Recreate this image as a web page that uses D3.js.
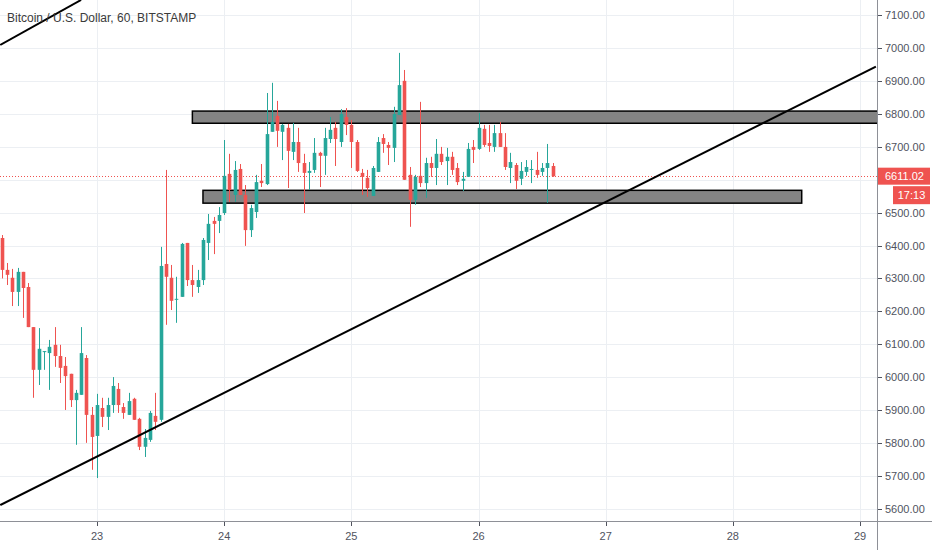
<!DOCTYPE html>
<html>
<head>
<meta charset="utf-8">
<script src="https://cdn.jsdelivr.net/npm/d3@7"></script>
<style>
  body { margin: 0; background: #fff; }
  svg { display: block; font-family: "Liberation Sans", Arial, sans-serif; }
</style>
</head>
<body>
<svg id="chart"></svg>
<script>
// hourly BTCUSD bars, first bar 22 Mar 06:00 (UTC)
const firstBar = Date.UTC(2020, 2, 22, 6);

const open = [6423,6326,6302,6259,6320,6274,6152,6022,6076,6073,6098,6064,6034,6010,5930,5946,6058,5885,
  5821,5906,5879,5915,5964,5909,5885,5934,5873,5788,5809,5882,5870,6344,6302,6235,6244,6408,6295,6274,
  6295,6408,6475,6475,6499,6618,6554,6633,6554,6447,6502,6597,6587,6746,6794,6746,6758,6685,6715,6651,
  6621,6630,6682,6673,6724,6758,6715,6791,6767,6715,6621,6606,6551,6624,6727,6706,6697,6797,6901,6615,
  6539,6612,6590,6651,6636,6679,6657,6670,6636,6597,6609,6700,6694,6755,6712,6700,6742,6700,6636,6645,
  6603,6624,6630,6630,6624,6636,6642];
const high = [6432,6347,6329,6332,6320,6286,6152,6149,6079,6113,6152,6098,6061,6010,5961,6152,6067,5909,
  5949,5937,5937,6000,5982,5921,5952,5937,5876,5842,5897,5952,6396,6630,6341,6305,6408,6408,6341,6326,
  6423,6496,6487,6517,6721,6679,6657,6648,6584,6524,6615,6648,6864,6895,6840,6770,6770,6773,6758,6679,
  6654,6727,6685,6758,6791,6776,6815,6818,6782,6721,6633,6630,6642,6730,6739,6715,6822,6986,6934,6639,
  6615,6837,6667,6670,6724,6700,6697,6685,6651,6624,6712,6721,6803,6767,6767,6767,6776,6742,6682,6651,
  6654,6660,6660,6685,6651,6709,6651];
const low = [6300,6280,6216,6216,6180,6152,5937,5976,6022,5961,6031,5982,5900,5909,5794,5946,5800,5718,
  5693,5848,5839,5891,5891,5873,5885,5870,5778,5757,5803,5839,5864,6159,6204,6165,6244,6277,6244,6256,
  6280,6356,6374,6438,6493,6533,6533,6554,6399,6426,6484,6578,6584,6746,6700,6660,6575,6660,6624,6499,
  6569,6621,6578,6615,6712,6642,6700,6736,6636,6624,6554,6548,6551,6624,6682,6645,6654,6797,6600,6457,
  6524,6578,6545,6609,6584,6645,6584,6615,6584,6566,6609,6651,6691,6700,6685,6685,6700,6630,6590,6572,
  6584,6612,6590,6606,6612,6530,6609];
const close = [6326,6311,6259,6320,6271,6152,6022,6086,6079,6092,6064,6028,6003,5930,5952,6073,5885,5818,
  5915,5879,5915,5973,5915,5891,5927,5870,5788,5815,5891,5864,6338,6305,6232,6238,6405,6295,6280,6295,
  6417,6466,6466,6493,6612,6569,6630,6554,6447,6514,6593,6590,6739,6776,6749,6767,6688,6715,6651,6621,
  6627,6682,6673,6727,6752,6724,6800,6767,6715,6627,6609,6575,6636,6715,6709,6697,6800,6888,6600,6539,
  6609,6590,6651,6636,6679,6654,6670,6630,6593,6603,6694,6691,6758,6706,6703,6742,6700,6639,6654,6597,
  6627,6639,6633,6615,6636,6651,6611.02];

const dayTicks = [22, 23, 24, 25, 26, 27, 28, 29];
const priceTicks = [5600,5700,5800,5900,6000,6100,6200,6300,6400,6500,6600,6700,6800,6900,7000,7100];
const title = "Bitcoin / U.S. Dollar, 60, BITSTAMP";
const lastPrice = 6611.02;
const timerText = "17:13";

// drawn zones: [start, end] times and [bottom, top] prices
const zoneStart = [Date.UTC(2020, 2, 23, 18), Date.UTC(2020, 2, 23, 20)];
const zoneEnd   = [Date.UTC(2020, 2, 29, 12), Date.UTC(2020, 2, 28, 13)];
const zoneTop    = [6809, 6568];
const zoneBottom = [6772, 6529];

// drawn trend lines: [time, price] end points
const trendTimes  = [[Date.UTC(2020, 2, 22, 5, 45), Date.UTC(2020, 2, 22, 21)],
                     [Date.UTC(2020, 2, 22, 5, 45), Date.UTC(2020, 2, 29, 3)]];
const trendPrices = [[7010, 7147], [5611, 6944]];

const W = 932, H = 550;
const plotR = 877, plotB = 521;
const green = '#26a69a', red = '#ef5350';

const svg = d3.select('#chart').attr('width', W).attr('height', H);

const x = d3.scaleUtc()
  .domain([Date.UTC(2020, 2, 23), Date.UTC(2020, 2, 29)])
  .range([97, 860]);
const y = d3.scaleLinear()
  .domain([5600, 7100])
  .range([508.6, 15.4]);

const bars = open.map((o, i) => ({
  t: d3.utcHour.offset(new Date(firstBar), i),
  o: o, h: high[i], l: low[i], c: close[i]
}));

svg.append('clipPath').attr('id', 'plot')
  .append('rect').attr('width', plotR).attr('height', plotB);

const plot = svg.append('g').attr('clip-path', 'url(#plot)');

// grid
plot.selectAll('.hgrid').data(priceTicks).enter()
  .append('line')
  .attr('x1', 0).attr('x2', plotR)
  .attr('y1', d => Math.round(y(d)) + 0.5).attr('y2', d => Math.round(y(d)) + 0.5)
  .attr('stroke', '#eceff3');
plot.selectAll('.vgrid').data(dayTicks).enter()
  .append('line')
  .attr('x1', d => Math.round(x(Date.UTC(2020, 2, d))) + 0.5)
  .attr('x2', d => Math.round(x(Date.UTC(2020, 2, d))) + 0.5)
  .attr('y1', 0).attr('y2', plotB)
  .attr('stroke', '#eceff3');

// last price line
plot.append('line')
  .attr('x1', 0).attr('x2', plotR)
  .attr('y1', Math.round(y(lastPrice)) + 0.5).attr('y2', Math.round(y(lastPrice)) + 0.5)
  .attr('stroke', red).attr('stroke-dasharray', '1,2');

// zones
plot.selectAll('.zone').data(zoneTop).enter()
  .append('rect')
  .attr('x', (d, i) => x(zoneStart[i]))
  .attr('width', (d, i) => x(zoneEnd[i]) - x(zoneStart[i]))
  .attr('y', d => y(d))
  .attr('height', (d, i) => y(zoneBottom[i]) - y(d))
  .attr('fill', '#848484')
  .attr('stroke', '#000').attr('stroke-width', 1.5);

// candles
const candle = plot.selectAll('.candle').data(bars).enter()
  .append('g')
  .attr('fill', d => d.c >= d.o ? green : red)
  .attr('stroke', d => d.c >= d.o ? green : red);

candle.append('line')
  .attr('x1', d => Math.round(x(d.t)) + 0.5).attr('x2', d => Math.round(x(d.t)) + 0.5)
  .attr('y1', d => y(d.h)).attr('y2', d => y(d.l))
  .attr('stroke-width', 1);

candle.append('rect')
  .attr('x', d => Math.round(x(d.t)) + 0.5 - 1.8)
  .attr('width', 3.6)
  .attr('y', d => y(Math.max(d.o, d.c)))
  .attr('height', d => Math.max(1, Math.abs(y(d.o) - y(d.c))))
  .attr('stroke', 'none');

// trend lines
const line = d3.line().x(d => x(d[0])).y(d => y(d[1]));
plot.selectAll('.trend').data(trendTimes).enter()
  .append('path')
  .attr('d', (d, i) => line(d.map((t, j) => [t, trendPrices[i][j]])))
  .attr('fill', 'none')
  .attr('stroke', '#000').attr('stroke-width', 2);

// title
svg.append('text')
  .attr('x', 7).attr('y', 21.5)
  .attr('font-size', 12).attr('fill', '#3a3a3a')
  .text(title);

// axes lines
svg.append('line')
  .attr('x1', plotR + 0.5).attr('x2', plotR + 0.5)
  .attr('y1', 0).attr('y2', H)
  .attr('stroke', '#8e9097');
svg.append('line')
  .attr('x1', 0).attr('x2', W)
  .attr('y1', plotB + 0.5).attr('y2', plotB + 0.5)
  .attr('stroke', '#8e9097');

// price axis
const lastY = y(lastPrice);
const shownTicks = priceTicks.filter(d => Math.abs(y(d) - lastY) > 14);
svg.selectAll('.ptick').data(shownTicks).enter()
  .append('line')
  .attr('x1', plotR + 1).attr('x2', plotR + 5)
  .attr('y1', d => Math.round(y(d)) + 0.5).attr('y2', d => Math.round(y(d)) + 0.5)
  .attr('stroke', '#50535e');
svg.selectAll('.plabel').data(shownTicks).enter()
  .append('text')
  .attr('x', 885).attr('y', d => y(d) + 4)
  .attr('font-size', 11).attr('fill', '#50535e')
  .text(d => d3.format('.2f')(d));

// time axis
const shownDays = dayTicks.filter(d => x(Date.UTC(2020, 2, d)) > 10);
svg.selectAll('.dtick').data(shownDays).enter()
  .append('line')
  .attr('x1', d => Math.round(x(Date.UTC(2020, 2, d))) + 0.5)
  .attr('x2', d => Math.round(x(Date.UTC(2020, 2, d))) + 0.5)
  .attr('y1', plotB + 1).attr('y2', plotB + 5)
  .attr('stroke', '#50535e');
svg.selectAll('.dlabel').data(shownDays).enter()
  .append('text')
  .attr('x', d => x(Date.UTC(2020, 2, d)))
  .attr('y', 540)
  .attr('text-anchor', 'middle')
  .attr('font-size', 11).attr('fill', '#50535e')
  .text(d => d);

// last price + countdown labels
svg.append('rect')
  .attr('x', plotR + 1).attr('y', lastY - 8.5)
  .attr('width', 52).attr('height', 17)
  .attr('fill', red);
svg.append('text')
  .attr('x', 885).attr('y', lastY + 4)
  .attr('font-size', 11).attr('fill', '#fff')
  .text(d3.format('.2f')(lastPrice));
svg.append('rect')
  .attr('x', 893).attr('y', lastY + 10)
  .attr('width', 37).attr('height', 18)
  .attr('fill', red);
svg.append('text')
  .attr('x', 911.5).attr('y', lastY + 23)
  .attr('text-anchor', 'middle')
  .attr('font-size', 11).attr('fill', '#fff')
  .text(timerText);
</script>
</body>
</html>
